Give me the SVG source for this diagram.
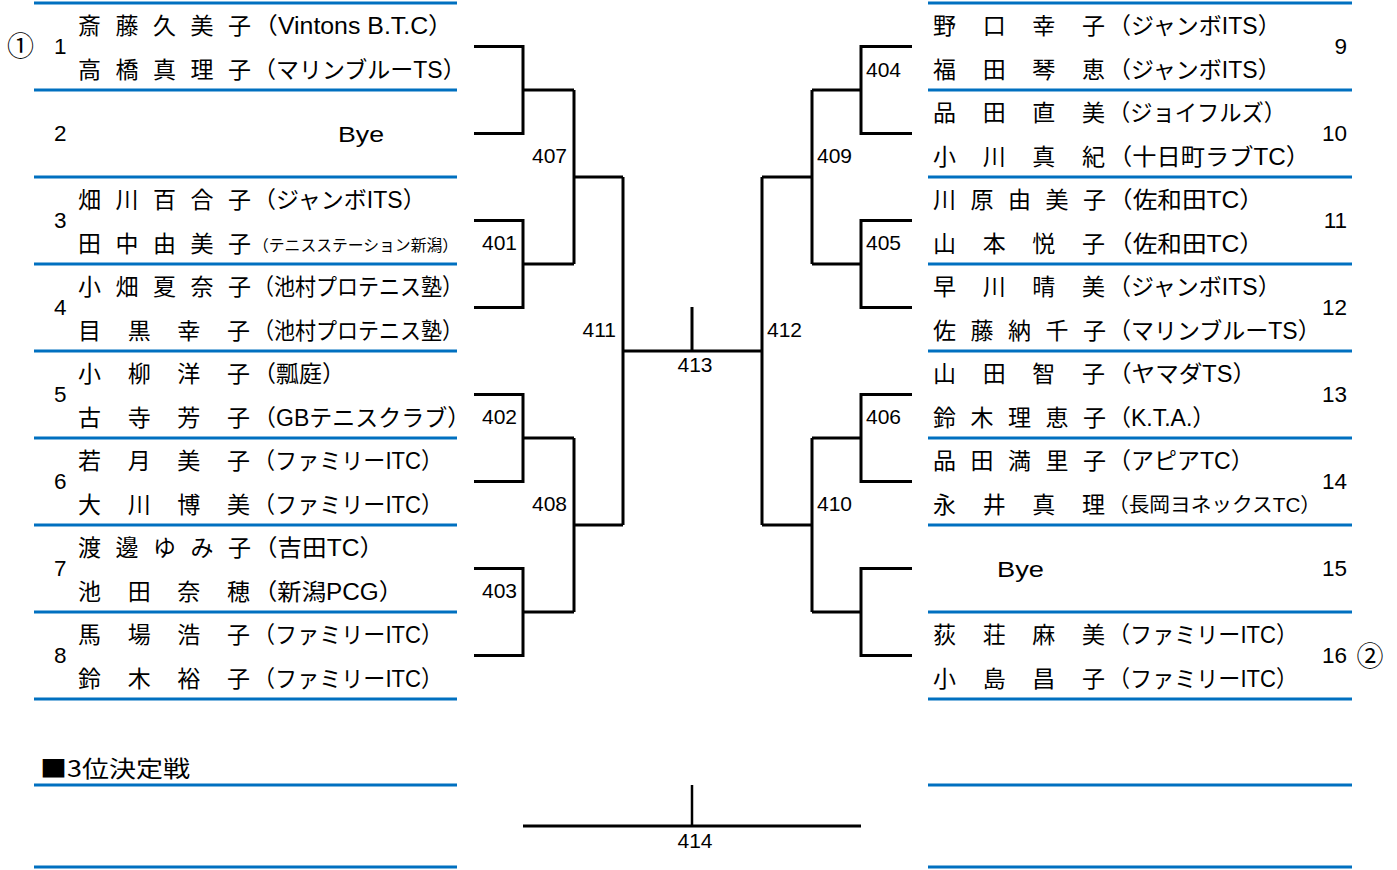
<svg xmlns="http://www.w3.org/2000/svg" width="1397" height="870" viewBox="0 0 1397 870">
<style>
text{font-family:"Liberation Sans","Noto Sans CJK JP",sans-serif;fill:#000}
.nm{font-size:23px}
.s15{font-size:15.8px}
.s20{font-size:20px}
.num{font-size:22.5px}
.lbl{font-size:21px}
.cir{font-family:"Noto Sans CJK JP",sans-serif;font-size:27px}
.hd{font-family:"Noto Sans CJK JP",sans-serif;font-size:23px}
.blue{stroke:#0070C0;stroke-width:3;fill:none}
.br{stroke:#000;stroke-width:3;fill:none}
.thin{stroke:#000;stroke-width:2.5;fill:none}
</style>
<rect width="1397" height="870" fill="#fff"/>
<g id="rules">
<path class="blue" d="M34 3H457M34 90H457M34 177H457M34 264H457M34 351H457M34 438H457M34 525H457M34 612H457M34 699H457"/>
<path class="blue" d="M928 3H1352M928 90H1352M928 177H1352M928 264H1352M928 351H1352M928 438H1352M928 525H1352M928 612H1352M928 699H1352"/>
<path class="blue" d="M34 785H457M34 867H457M928 785H1352M928 867H1352"/>
</g>
<g id="connectors">
<path class="br" d="M474 46.5H523V133.5H474M523 90H574"/>
<path class="br" d="M474 220.5H523V307.5H474M523 264H574"/>
<path class="br" d="M474 394.5H523V481.5H474M523 438H574"/>
<path class="br" d="M474 568.5H523V655.5H474M523 612H574"/>
<path class="br" d="M574 90V264M574 177H623"/>
<path class="br" d="M574 438V612M574 525H623"/>
<path class="br" d="M623 177V525M623 351H762"/>
<path class="br" d="M912 46.5H861V133.5H912M861 90H812"/>
<path class="br" d="M912 220.5H861V307.5H912M861 264H812"/>
<path class="br" d="M912 394.5H861V481.5H912M861 438H812"/>
<path class="br" d="M912 568.5H861V655.5H912M861 612H812"/>
<path class="br" d="M812 90V264M812 177H762"/>
<path class="br" d="M812 438V612M812 525H762"/>
<path class="br" d="M762 177V525"/>
<path class="br" d="M692 307V351"/>
<path class="br" d="M523 826H861"/>
<path class="thin" d="M692 785V826"/>
</g>
<g id="labels">
<text class="lbl" x="517" y="250" text-anchor="end">401</text>
<text class="lbl" x="517" y="424" text-anchor="end">402</text>
<text class="lbl" x="517" y="598" text-anchor="end">403</text>
<text class="lbl" x="567" y="163" text-anchor="end">407</text>
<text class="lbl" x="567" y="511" text-anchor="end">408</text>
<text class="lbl" x="616" y="337" text-anchor="end">411</text>
<text class="lbl" x="866" y="77">404</text>
<text class="lbl" x="866" y="250">405</text>
<text class="lbl" x="866" y="424">406</text>
<text class="lbl" x="817" y="163">409</text>
<text class="lbl" x="817" y="511">410</text>
<text class="lbl" x="767" y="337">412</text>
<text class="lbl" x="695" y="372" text-anchor="middle">413</text>
<text class="lbl" x="695" y="848" text-anchor="middle">414</text>
</g>
<g id="entry-1">
<text class="cir" x="20.5" y="56" text-anchor="middle">①</text>
<text class="num" x="54" y="54">1</text>
<text class="nm" x="78 115.5 153 190.5 228" y="34">斎藤久美子</text>
<text class="nm" x="253" y="34" textLength="200" lengthAdjust="spacingAndGlyphs">（Vintons B.T.C）</text>
<text class="nm" x="78 115.5 153 190.5 228" y="78">高橋真理子</text>
<text class="nm" x="253" y="78">（マリンブルーTS）</text>
</g>
<g id="entry-2">
<text class="num" x="54" y="141">2</text>
<text class="num" x="338" y="142" textLength="46" lengthAdjust="spacingAndGlyphs">Bye</text>
</g>
<g id="entry-3">
<text class="num" x="54" y="228">3</text>
<text class="nm" x="78 115.5 153 190.5 228" y="208">畑川百合子</text>
<text class="nm" x="253" y="208">（ジャンボITS）</text>
<text class="nm" x="78 115.5 153 190.5 228" y="252">田中由美子</text>
<text class="s15" x="253" y="251">（テニスステーション新潟）</text>
</g>
<g id="entry-4">
<text class="num" x="54" y="315">4</text>
<text class="nm" x="78 115.5 153 190.5 228" y="295">小畑夏奈子</text>
<text class="nm" x="253" y="295" textLength="210" lengthAdjust="spacingAndGlyphs">（池村プロテニス塾）</text>
<text class="nm" x="78 127.7 177.3 227" y="339">目黒幸子</text>
<text class="nm" x="253" y="339" textLength="210" lengthAdjust="spacingAndGlyphs">（池村プロテニス塾）</text>
</g>
<g id="entry-5">
<text class="num" x="54" y="402">5</text>
<text class="nm" x="78 127.7 177.3 227" y="382">小柳洋子</text>
<text class="nm" x="253" y="382">（瓢庭）</text>
<text class="nm" x="78 127.7 177.3 227" y="426">古寺芳子</text>
<text class="nm" x="253" y="426">（GBテニスクラブ）</text>
</g>
<g id="entry-6">
<text class="num" x="54" y="489">6</text>
<text class="nm" x="78 127.7 177.3 227" y="469">若月美子</text>
<text class="nm" x="253" y="469" textLength="190" lengthAdjust="spacingAndGlyphs">（ファミリーITC）</text>
<text class="nm" x="78 127.7 177.3 227" y="513">大川博美</text>
<text class="nm" x="253" y="513" textLength="190" lengthAdjust="spacingAndGlyphs">（ファミリーITC）</text>
</g>
<g id="entry-7">
<text class="num" x="54" y="576">7</text>
<text class="nm" x="78 115.5 153 190.5 228" y="556">渡邊ゆみ子</text>
<text class="nm" x="253" y="556" textLength="131" lengthAdjust="spacingAndGlyphs">（吉田TC）</text>
<text class="nm" x="78 127.7 177.3 227" y="600">池田奈穂</text>
<text class="nm" x="253" y="600" textLength="150" lengthAdjust="spacingAndGlyphs">（新潟PCG）</text>
</g>
<g id="entry-8">
<text class="num" x="54" y="663">8</text>
<text class="nm" x="78 127.7 177.3 227" y="643">馬場浩子</text>
<text class="nm" x="253" y="643" textLength="190" lengthAdjust="spacingAndGlyphs">（ファミリーITC）</text>
<text class="nm" x="78 127.7 177.3 227" y="687">鈴木裕子</text>
<text class="nm" x="253" y="687" textLength="190" lengthAdjust="spacingAndGlyphs">（ファミリーITC）</text>
</g>
<g id="entry-9">
<text class="num" x="1347" y="54" text-anchor="end">9</text>
<text class="nm" x="933 982.7 1032.3 1082" y="34">野口幸子</text>
<text class="nm" x="1108" y="34">（ジャンボITS）</text>
<text class="nm" x="933 982.7 1032.3 1082" y="78">福田琴恵</text>
<text class="nm" x="1108" y="78">（ジャンボITS）</text>
</g>
<g id="entry-10">
<text class="num" x="1347" y="141" text-anchor="end">10</text>
<text class="nm" x="933 982.7 1032.3 1082" y="121">品田直美</text>
<text class="nm" x="1108" y="121" textLength="178" lengthAdjust="spacingAndGlyphs">（ジョイフルズ）</text>
<text class="nm" x="933 982.7 1032.3 1082" y="165">小川真紀</text>
<text class="nm" x="1108" y="165" textLength="202" lengthAdjust="spacingAndGlyphs">（十日町ラブTC）</text>
</g>
<g id="entry-11">
<text class="num" x="1347" y="228" text-anchor="end">11</text>
<text class="nm" x="933 970.5 1008 1045.5 1083" y="208">川原由美子</text>
<text class="nm" x="1108" y="208" textLength="156" lengthAdjust="spacingAndGlyphs">（佐和田TC）</text>
<text class="nm" x="933 982.7 1032.3 1082" y="252">山本悦子</text>
<text class="nm" x="1108" y="252" textLength="156" lengthAdjust="spacingAndGlyphs">（佐和田TC）</text>
</g>
<g id="entry-12">
<text class="num" x="1347" y="315" text-anchor="end">12</text>
<text class="nm" x="933 982.7 1032.3 1082" y="295">早川晴美</text>
<text class="nm" x="1108" y="295">（ジャンボITS）</text>
<text class="nm" x="933 970.5 1008 1045.5 1083" y="339">佐藤納千子</text>
<text class="nm" x="1108" y="339">（マリンブルーTS）</text>
</g>
<g id="entry-13">
<text class="num" x="1347" y="402" text-anchor="end">13</text>
<text class="nm" x="933 982.7 1032.3 1082" y="382">山田智子</text>
<text class="nm" x="1108" y="382" textLength="148" lengthAdjust="spacingAndGlyphs">（ヤマダTS）</text>
<text class="nm" x="933 970.5 1008 1045.5 1083" y="426">鈴木理恵子</text>
<text class="nm" x="1108" y="426">（K.T.A.）</text>
</g>
<g id="entry-14">
<text class="num" x="1347" y="489" text-anchor="end">14</text>
<text class="nm" x="933 970.5 1008 1045.5 1083" y="469">品田満里子</text>
<text class="nm" x="1108" y="469">（アピアTC）</text>
<text class="nm" x="933 982.7 1032.3 1082" y="513">永井真理</text>
<text class="s20" x="1108" y="512" textLength="213" lengthAdjust="spacingAndGlyphs">（長岡ヨネックスTC）</text>
</g>
<g id="entry-15">
<text class="num" x="1347" y="576" text-anchor="end">15</text>
<text class="num" x="997" y="577" textLength="47" lengthAdjust="spacingAndGlyphs">Bye</text>
</g>
<g id="entry-16">
<text class="num" x="1347" y="663" text-anchor="end">16</text>
<text class="cir" x="1370" y="666" text-anchor="middle">②</text>
<text class="nm" x="933 982.7 1032.3 1082" y="643">荻荘麻美</text>
<text class="nm" x="1108" y="643" textLength="190" lengthAdjust="spacingAndGlyphs">（ファミリーITC）</text>
<text class="nm" x="933 982.7 1032.3 1082" y="687">小島昌子</text>
<text class="nm" x="1108" y="687" textLength="190" lengthAdjust="spacingAndGlyphs">（ファミリーITC）</text>
</g>
<g id="third-place">
<text class="hd" x="40" y="777" textLength="150" lengthAdjust="spacingAndGlyphs">■3位決定戦</text>
</g>
</svg>
